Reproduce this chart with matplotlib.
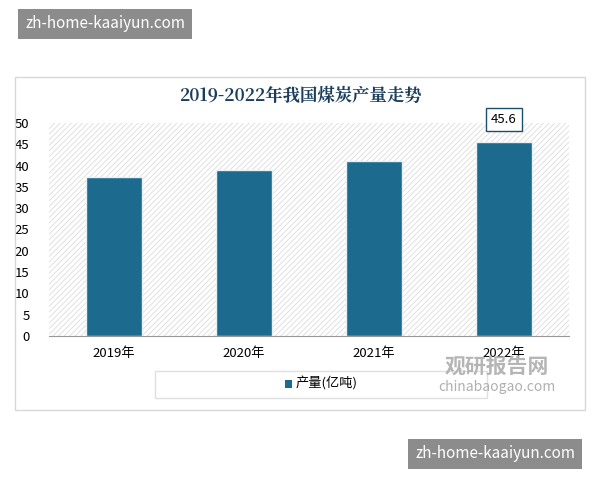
import matplotlib
matplotlib.use("Agg")
import matplotlib.pyplot as plt
from matplotlib.patches import Rectangle

plt.rcParams['font.family'] = ['Noto Sans CJK SC', 'DejaVu Sans']
plt.rcParams['hatch.color'] = '#dcdcdc'
plt.rcParams['hatch.linewidth'] = 0.6

categories = ['2019年', '2020年', '2021年', '2022年']
values = [37.3, 39.0, 41.1, 45.6]
yticks = [0, 5, 10, 15, 20, 25, 30, 35, 40, 45, 50]
color = '#1d6a8f'

fig = plt.figure(figsize=(6, 4.8), dpi=100)
fig.patch.set_facecolor('white')
fig.patches.append(Rectangle((15/600, 1-410/480), 570/600, 333/480, transform=fig.transFigure,
                             fill=False, edgecolor='#d8d8d8', lw=1))
ax = fig.add_axes([49/600, 1-336/480, 520/600, 213/480])
ax.add_patch(Rectangle((0, 0), 1, 1, transform=ax.transAxes, facecolor='white',
                       hatch='//////', edgecolor='#dcdcdc', lw=0, zorder=0))
x = range(len(categories))
ax.bar(x, values, width=0.43, color=color, edgecolor='#e8f0f4', lw=1, zorder=2)
ax.set_xlim(-0.5, 3.5)
ax.set_ylim(0, 50)
ax.set_yticks(yticks)
ax.set_xticks(list(x))
ax.set_xticklabels(categories, fontsize=9.5)
ax.tick_params(axis='y', labelsize=9.5, length=0, pad=14)
ax.tick_params(axis='x', length=0, pad=8)
for s in ['top', 'right', 'left']:
    ax.spines[s].set_visible(False)
ax.spines['bottom'].set_color('#999999')
ax.text(3, values[3] + 5.2, f'{values[3]}', ha='center', va='center', fontsize=9.5, zorder=5,
        bbox=dict(boxstyle='square,pad=0.4', facecolor='white', edgecolor='#1d4f6a', lw=1), clip_on=False)
fig.text(0.5, 1-96/480, '2019-2022年我国煤炭产量走势', ha='center', va='center',
         fontsize=12.5, fontweight='bold', color='#1a3d5c', family=['Noto Serif CJK SC', 'Noto Sans CJK SC'])
fig.patches.append(Rectangle((155/600, 1-398/480), 332/600, 27/480, transform=fig.transFigure,
                             fill=False, edgecolor='#e0e0e0', lw=1))
fig.patches.append(Rectangle((285/600, 1-388/480), 7/600, 8/480, transform=fig.transFigure,
                             facecolor=color, lw=0))
fig.text(296/600, 1-384/480, '产量(亿吨)', va='center', fontsize=9.5)
fig.text(497/600, 1-387/480, 'chinabaogao.com', ha='center', va='center', fontsize=10, color='#b0b0b0')
fig.text(497/600, 1-366/480, '观研报告网', ha='center', va='center', fontsize=15, fontweight='bold', color='#b5b5b5')
for (x0, y0, w) in [(10, 10, 190), (400, 440, 190)]:
    fig.text((x0 + w/2)/600, 1-(y0+14)/480, 'zh-home-kaaiyun.com', ha='center', va='center',
             fontsize=11, color='white',
             bbox=dict(boxstyle='square,pad=0.45', facecolor='#8c8c8c', edgecolor='none'))
fig.savefig('out.png', dpi=100)
